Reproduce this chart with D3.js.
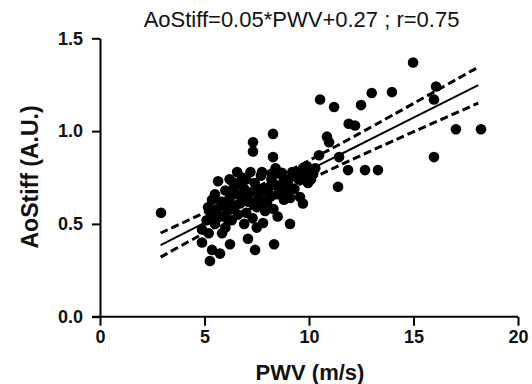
<!DOCTYPE html>
<html>
<head>
<meta charset="utf-8">
<script src="https://cdn.jsdelivr.net/npm/d3@7"></script>
<style>
  html, body { margin: 0; padding: 0; background: #fff; }
  svg { display: block; }
  text { font-family: "Liberation Sans", Arial, sans-serif; }
</style>
</head>
<body>
<svg id="chart" width="532" height="384"></svg>
<script>
// ---- Data ----
const titleText = "AoStiff=0.05*PWV+0.27 ; r=0.75";
const xLabel = "PWV (m/s)";
const yLabel = "AoStiff (A.U.)";
const xTicks = [0, 5, 10, 15, 20];
const yTicks = [0.0, 0.5, 1.0, 1.5];

// PWV (m/s) of each subject
const pwv = [
  2.92, 4.88, 4.88, 5.26, 5.36, 5.74, 5.17, 5.36, 5.65, 6.56, 7.32, 7.32, 8.28, 8.28,
  5.84, 6.22, 7.08, 7.42, 7.80, 9.09, 8.33,
  10.53, 11.20, 12.49, 13.00, 13.97, 14.98, 16.08, 15.98, 11.90, 12.20, 17.03, 18.23,
  15.98, 10.86, 10.96, 10.48, 11.44, 11.87, 12.68, 13.30, 11.39, 9.57, 9.71, 9.95,
  9.71, 10.20, 10.00,
  5.10, 5.30, 5.50, 5.60, 5.80, 5.90, 5.50, 5.20,
  6.00, 6.10, 6.20, 6.30, 6.40, 6.50, 6.60, 6.70, 6.80, 6.90, 6.20, 6.00,
  7.00, 7.10, 7.20, 7.30, 7.40, 7.50, 7.60, 7.70, 7.80, 7.90, 7.20, 7.50,
  8.00, 8.10, 8.20, 8.30, 8.50, 8.60, 8.70, 8.80, 8.90, 8.40, 9.00, 9.20, 9.30, 9.40,
  9.10, 8.50, 7.75, 8.20, 8.70, 9.20, 9.67, 6.36, 9.90, 10.10,
  5.60, 5.90, 6.10, 6.30, 6.50, 6.70, 6.90, 7.10, 7.30, 7.60, 7.80, 8.00, 8.20, 8.40,
  8.60, 8.80, 9.00, 9.50, 9.80, 10.30, 6.80, 7.00
];
// AoStiff (A.U.) of each subject
const aoStiff = [
  0.56, 0.47, 0.40, 0.30, 0.36, 0.34, 0.59, 0.63, 0.73, 0.78, 0.94, 0.89, 0.985, 0.86,
  0.45, 0.39, 0.42, 0.36, 0.505, 0.50, 0.39,
  1.17, 1.13, 1.14, 1.205, 1.21, 1.37, 1.24, 1.17, 1.04, 1.03, 1.01, 1.01,
  0.86, 0.97, 0.94, 0.87, 0.86, 0.79, 0.79, 0.79, 0.70, 0.645, 0.61, 0.72,
  0.80, 0.77, 0.75,
  0.52, 0.55, 0.50, 0.58, 0.62, 0.54, 0.66, 0.45,
  0.48, 0.57, 0.64, 0.52, 0.69, 0.60, 0.55, 0.72, 0.65, 0.50, 0.74, 0.68,
  0.56, 0.62, 0.67, 0.53, 0.72, 0.59, 0.64, 0.76, 0.69, 0.57, 0.78, 0.48,
  0.62, 0.70, 0.74, 0.58, 0.66, 0.77, 0.71, 0.63, 0.68, 0.80, 0.73, 0.76, 0.69, 0.78,
  0.64, 0.54, 0.78, 0.77, 0.775, 0.78, 0.77, 0.725, 0.81, 0.74,
  0.53, 0.60, 0.62, 0.58, 0.66, 0.61, 0.69, 0.66, 0.61, 0.68, 0.62, 0.67, 0.65, 0.71,
  0.69, 0.74, 0.70, 0.74, 0.76, 0.80, 0.75, 0.74
];

// Regression line and 95% confidence band
const bandX     = [2.9, 5.0, 8.0, 11.0, 14.0, 18.1];
const fitY      = [0.386, 0.506, 0.676, 0.846, 1.016, 1.248];
const upperY    = [0.451, 0.561, 0.726, 0.901, 1.086, 1.345];
const lowerY    = [0.321, 0.451, 0.627, 0.791, 0.946, 1.151];

// ---- Drawing ----
const svg = d3.select("#chart");
const x = d3.scaleLinear().domain([0, 20]).range([100, 518]);
const y = d3.scaleLinear().domain([0, 1.5]).range([316.7, 38.3]);

// points
const pts = pwv.map((v, i) => ({ x: v, y: aoStiff[i] }));
svg.append("g")
  .selectAll("circle")
  .data(pts)
  .join("circle")
  .attr("cx", d => x(d.x))
  .attr("cy", d => y(d.y))
  .attr("r", 5.3)
  .attr("fill", "#000");

// lines
const line = d3.line().x(d => x(d[0])).y(d => y(d[1])).curve(d3.curveNatural);
svg.append("path")
  .attr("d", line(bandX.map((v, i) => [v, fitY[i]])))
  .attr("fill", "none").attr("stroke", "#000").attr("stroke-width", 2);
[upperY, lowerY].forEach(arr => {
  svg.append("path")
    .attr("d", line(bandX.map((v, i) => [v, arr[i]])))
    .attr("fill", "none").attr("stroke", "#000")
    .attr("stroke-width", 3).attr("stroke-dasharray", "8,4");
});

// axes
const xAxis = svg.append("g")
  .attr("transform", `translate(0,${y(0)})`)
  .call(d3.axisBottom(x).tickValues(xTicks).tickFormat(d3.format("d"))
    .tickSize(9).tickSizeOuter(0).tickPadding(5));
const yAxis = svg.append("g")
  .attr("transform", `translate(${x(0)},0)`)
  .call(d3.axisLeft(y).tickValues(yTicks).tickFormat(d3.format(".1f"))
    .tickSize(8).tickSizeOuter(0).tickPadding(9));
[xAxis, yAxis].forEach(g => {
  g.select(".domain").attr("stroke", "#000").attr("stroke-width", 2);
  g.selectAll(".tick line").attr("stroke", "#000").attr("stroke-width", 2);
  g.selectAll(".tick text")
    .attr("fill", "#111")
    .style("font-family", '"Liberation Sans", Arial, sans-serif')
    .style("font-size", "18px")
    .style("font-weight", "bold");
});
// let the x axis line start at the y tick end
xAxis.select(".domain").attr("d", `M${x(0) - 8},0H${x(20)}`);

// title
svg.append("text")
  .attr("x", 301.5).attr("y", 27)
  .attr("text-anchor", "middle")
  .style("font-size", "22px")
  .attr("fill", "#111")
  .text(titleText);

// axis titles
svg.append("text")
  .attr("x", 310).attr("y", 380)
  .attr("text-anchor", "middle")
  .style("font-size", "22px").style("font-weight", "bold")
  .attr("fill", "#111")
  .text(xLabel);
svg.append("text")
  .attr("transform", "translate(38,177) rotate(-90)")
  .attr("text-anchor", "middle")
  .style("font-size", "23px").style("font-weight", "bold")
  .attr("fill", "#111")
  .text(yLabel);
</script>
</body>
</html>
